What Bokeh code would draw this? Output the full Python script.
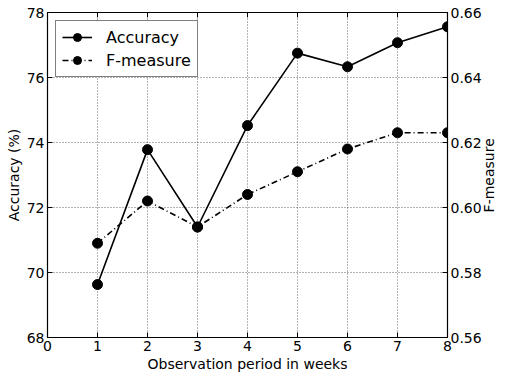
import math
from bokeh.plotting import figure
from bokeh.models import (Range1d, LinearAxis, Legend, LegendItem, FixedTicker,
                          NumeralTickFormatter, CustomJSTickFormatter)
from bokeh.embed import file_html
from bokeh.resources import INLINE

weeks = [1, 2, 3, 4, 5, 6, 7, 8]
accuracy = [69.63, 73.78, 71.40, 74.52, 76.75, 76.33, 77.07, 77.56]
fmeasure = [0.589, 0.602, 0.594, 0.604, 0.611, 0.618, 0.623, 0.623]
x_ticks = [0, 1, 2, 3, 4, 5, 6, 7, 8]
acc_ticks = [68, 70, 72, 74, 76, 78]
f_ticks = [0.56, 0.58, 0.60, 0.62, 0.64, 0.66]
right_title = "F-measure"

FONT = "DejaVu Sans"
X0, X1 = 0, 8
Y0, Y1 = 68, 78

p = figure(width=507, height=374, output_backend="svg", toolbar_location=None,
           x_range=Range1d(X0, X1), y_range=Range1d(Y0, Y1),
           min_border_left=47, min_border_top=12, min_border_bottom=34, min_border_right=50)
p.extra_y_ranges = {"f": Range1d(0.56, 0.66), "lab": Range1d(0, 1)}

p.outline_line_color = "black"
p.outline_line_width = 1.2
p.background_fill_color = "white"
p.border_fill_color = "white"

for g in (p.xgrid[0], p.ygrid[0]):
    g.grid_line_color = "black"
    g.grid_line_alpha = 0.6
    g.grid_line_dash = "1 2"
    g.grid_line_width = 1

p.xaxis.ticker = FixedTicker(ticks=x_ticks)
p.yaxis.ticker = FixedTicker(ticks=acc_ticks)
p.xaxis.axis_label = "Observation period in weeks"
p.yaxis.axis_label = "Accuracy (%)"

right = LinearAxis(y_range_name="f", ticker=FixedTicker(ticks=f_ticks))
right.formatter = NumeralTickFormatter(format="0.00")
p.add_layout(right, "right")

# title-only axis on the right: a single rotated label reading bottom to top,
# anchored a little below the middle so that the text is centred on the frame
title_anchor = 0.385
lab = LinearAxis(y_range_name="lab", ticker=FixedTicker(ticks=[title_anchor]),
                 formatter=CustomJSTickFormatter(code="return '%s';" % right_title))
lab.major_label_orientation = math.pi / 2
lab.axis_line_color = None
lab.major_tick_line_color = None
lab.minor_tick_line_color = None
p.add_layout(lab, "right")

for ax in p.xaxis + p.yaxis:
    ax.major_tick_in = 5
    ax.major_tick_out = 0
    ax.minor_tick_out = 0
    ax.minor_tick_in = 0
    ax.major_label_text_font = FONT
    ax.major_label_text_font_size = "14px"
    ax.major_label_text_color = "black"
    ax.axis_label_text_font = FONT
    ax.axis_label_text_font_size = "14px"
    ax.axis_label_text_font_style = "normal"
    ax.axis_label_text_color = "black"
    ax.major_label_standoff = 3
    ax.axis_label_standoff = 2
for ax in p.xaxis + [p.yaxis[0], right]:
    ax.axis_line_color = "black"
    ax.major_tick_line_color = "black"
    ax.minor_tick_line_color = None
lab.major_tick_in = 0
lab.major_label_standoff = 4

# tick marks on the top edge (classic style), drawn from the x tick list
top_len = 0.15
p.segment(x0=x_ticks, x1=x_ticks, y0=[Y1] * len(x_ticks), y1=[Y1 - top_len] * len(x_ticks),
          line_color="black", line_width=1)

l1 = p.line(weeks, accuracy, line_color="black", line_width=1.6)
c1 = p.scatter(weeks, accuracy, size=10, fill_color="black", line_color="black")
l2 = p.line(weeks, fmeasure, y_range_name="f", line_color="black", line_width=1.6, line_dash="6 3 1 3")
c2 = p.scatter(weeks, fmeasure, y_range_name="f", size=10, fill_color="black", line_color="black")

legend = Legend(items=[LegendItem(label="Accuracy", renderers=[l1, c1]),
                       LegendItem(label="F-measure", renderers=[l2, c2])],
                location="top_left")
legend.label_text_font = FONT
legend.label_text_font_size = "16px"
legend.label_text_color = "black"
legend.border_line_color = "black"
legend.border_line_width = 1
legend.glyph_width = 30
legend.label_standoff = 14
legend.padding = 6
legend.spacing = 3
legend.margin = 8
legend.background_fill_alpha = 1
p.add_layout(legend)

open("out.html", "w").write(file_html(p, INLINE))
